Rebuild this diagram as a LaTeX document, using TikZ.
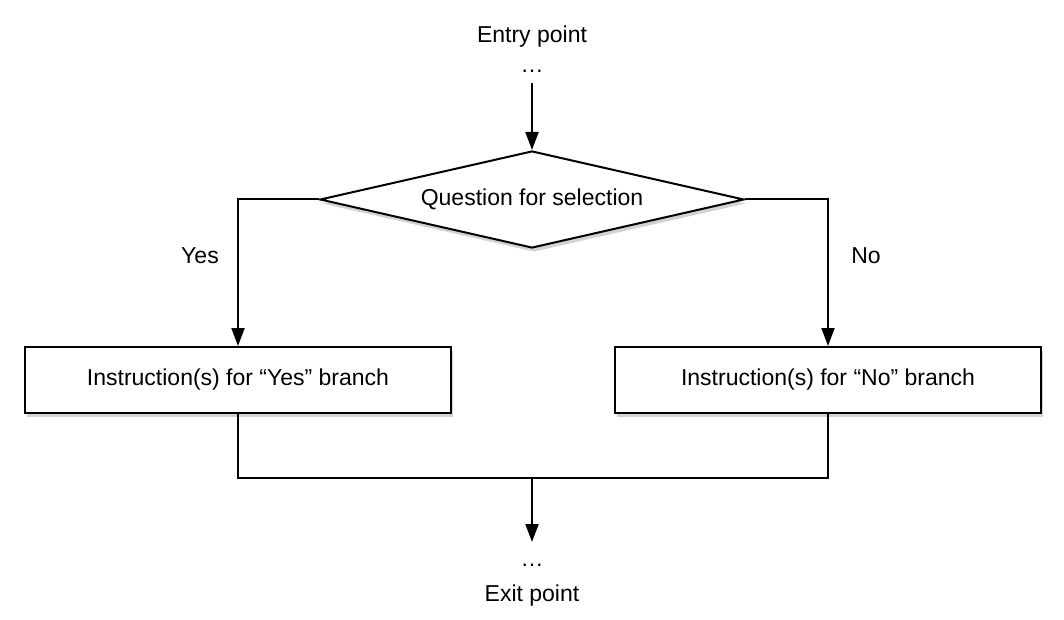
\documentclass[tikz,border=0pt]{standalone}
\usepackage{fontspec}
\setmainfont{Liberation Sans}
\usetikzlibrary{shapes.geometric, arrows.meta, shadows}
\tikzset{
  softshadow/.style={drop shadow={shadow xshift=1pt, shadow yshift=-2pt, opacity=0.35}},
  decision/.style={diamond, aspect=4.37, draw, line width=1pt, fill=white, inner sep=0pt,
    minimum width=212pt, minimum height=48.5pt, softshadow},
  process/.style={rectangle, draw, line width=1pt, fill=white,
    minimum width=213pt, minimum height=33pt, softshadow},
  flow/.style={line width=1pt, -{Triangle[length=9pt, width=6.5pt]}},
  link/.style={line width=1pt}
}
\begin{document}
\begin{tikzpicture}[x=0.5pt, y=-0.5pt, font=\fontsize{11.5}{14}\selectfont]
    \useasboundingbox (0,0) rectangle (1064,620);
    % entry
    \node (entry) at (532,37) {Entry point};
    \node (entrydots) at (532,71) {\dots};
    \coordinate (start) at (532,83);
    % selection
    \node[decision] (question) at (532,199.5) {Question for selection};
    \node[process] (yesbranch) at (238,380) {Instruction(s) for “Yes” branch};
    \node[process] (nobranch) at (828,380) {Instruction(s) for “No” branch};
    \node (yeslabel) at (200,256) {Yes};
    \node (nolabel) at (866,256) {No};
    % exit
    \coordinate (join) at (532,478);
    \coordinate (stop) at (532,542);
    \node (exitdots) at (532,565) {\dots};
    \node (exit) at (532,596) {Exit point};

    \draw[flow] (start) -- (question.north);
    \draw[flow] (question.west) -| (yesbranch.north);
    \draw[flow] (question.east) -| (nobranch.north);
    \draw[link] (yesbranch.south) |- (join) -| (nobranch.south);
    \draw[flow] (join) -- (stop);
\end{tikzpicture}
\end{document}
